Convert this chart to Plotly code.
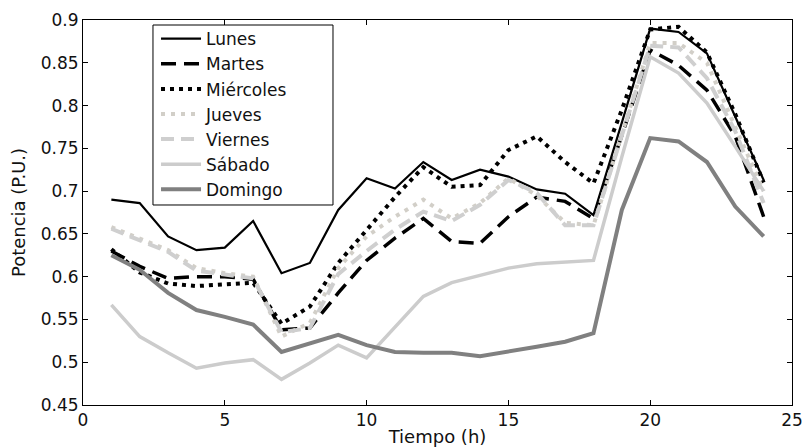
import plotly.graph_objects as go

hours = list(range(1, 25))

lunes = [0.690, 0.686, 0.647, 0.631, 0.634, 0.665, 0.604, 0.616, 0.678, 0.715, 0.703, 0.734,
         0.713, 0.725, 0.717, 0.702, 0.697, 0.672, 0.780, 0.890, 0.886, 0.861, 0.787, 0.713]
martes = [0.630, 0.612, 0.598, 0.600, 0.600, 0.597, 0.538, 0.540, 0.581, 0.619, 0.645, 0.668,
          0.641, 0.639, 0.670, 0.693, 0.688, 0.668, 0.765, 0.865, 0.847, 0.818, 0.764, 0.670]
miercoles = [0.632, 0.605, 0.592, 0.589, 0.591, 0.593, 0.545, 0.565, 0.616, 0.655, 0.693, 0.728,
             0.705, 0.707, 0.748, 0.764, 0.734, 0.709, 0.795, 0.889, 0.892, 0.862, 0.790, 0.710]
jueves = [0.658, 0.645, 0.631, 0.610, 0.604, 0.600, 0.530, 0.546, 0.610, 0.647, 0.670, 0.690,
          0.668, 0.686, 0.715, 0.695, 0.663, 0.660, 0.765, 0.873, 0.873, 0.850, 0.775, 0.700]
viernes = [0.656, 0.643, 0.629, 0.607, 0.602, 0.598, 0.535, 0.540, 0.603, 0.630, 0.655, 0.676,
           0.665, 0.684, 0.713, 0.698, 0.660, 0.660, 0.765, 0.870, 0.868, 0.832, 0.770, 0.686]
sabado = [0.567, 0.530, 0.511, 0.493, 0.499, 0.503, 0.480, 0.499, 0.520, 0.505, 0.541, 0.577,
          0.593, 0.602, 0.610, 0.615, 0.617, 0.619, 0.740, 0.857, 0.838, 0.803, 0.752, 0.700]
domingo = [0.625, 0.608, 0.581, 0.561, 0.553, 0.544, 0.512, 0.522, 0.532, 0.520, 0.512, 0.511,
           0.511, 0.507, 0.512, 0.518, 0.524, 0.534, 0.678, 0.762, 0.758, 0.734, 0.682, 0.647]

x_ticks = [0, 5, 10, 15, 20, 25]
y_ticks = [0.45, 0.5, 0.55, 0.6, 0.65, 0.7, 0.75, 0.8, 0.85, 0.9]
y_tick_labels = ["0.45", "0.5", "0.55", "0.6", "0.65", "0.7", "0.75", "0.8", "0.85", "0.9"]

names = ["Lunes", "Martes", "Miércoles", "Jueves", "Viernes", "Sábado", "Domingo"]
series = [lunes, martes, miercoles, jueves, viernes, sabado, domingo]
styles = [
    dict(color="#000000", width=2.2, dash="solid"),
    dict(color="#000000", width=3.5, dash="15px,8px"),
    dict(color="#000000", width=4, dash="4px,5px"),
    dict(color="#d2cfc8", width=4, dash="4px,6px"),
    dict(color="#cfcfcf", width=4, dash="13px,7px"),
    dict(color="#cccccc", width=3.5, dash="solid"),
    dict(color="#808080", width=4, dash="solid"),
]

fig = go.Figure()
for n, s, st in zip(names, series, styles):
    fig.add_trace(go.Scatter(x=hours, y=s, mode="lines", name=n, line=st))

# legend frame (paper coordinates)
fig.add_shape(type="rect", xref="paper", yref="paper",
              x0=0.0987, x1=0.3526, y0=0.5195, y1=0.987,
              line=dict(color="#000000", width=1), fillcolor="white", layer="above")

font_family = "DejaVu Sans, Liberation Sans, Arial, sans-serif"
fig.update_layout(
    width=807, height=447,
    margin=dict(l=83, r=15, t=20, b=42),
    paper_bgcolor="white", plot_bgcolor="white",
    font=dict(family=font_family, size=17, color="#111111"),
    showlegend=True,
    legend=dict(
        x=0.103, y=0.997, xanchor="left", yanchor="top",
        bgcolor="rgba(0,0,0,0)", borderwidth=0,
        font=dict(size=17, color="#111111"),
        tracegroupgap=0, itemwidth=40,
    ),
    xaxis=dict(
        range=[0, 25], tickvals=x_ticks,
        showline=True, linecolor="#000000", linewidth=1, mirror="ticks",
        ticks="inside", ticklen=5, tickcolor="#000000",
        showgrid=False, zeroline=False, automargin=False,
        title=dict(text="Tiempo (h)", font=dict(size=18), standoff=0),
    ),
    yaxis=dict(
        range=[0.45, 0.9], tickvals=y_ticks, ticktext=y_tick_labels,
        showline=True, linecolor="#000000", linewidth=1, mirror="ticks",
        ticks="inside", ticklen=5, tickcolor="#000000",
        showgrid=False, zeroline=False, automargin=False,
        title=dict(text="Potencia (P.U.)", font=dict(size=18), standoff=10),
    ),
)

fig.write_html("out.html", config={"displayModeBar": False},
               post_script="document.body.style.margin='0px';")
